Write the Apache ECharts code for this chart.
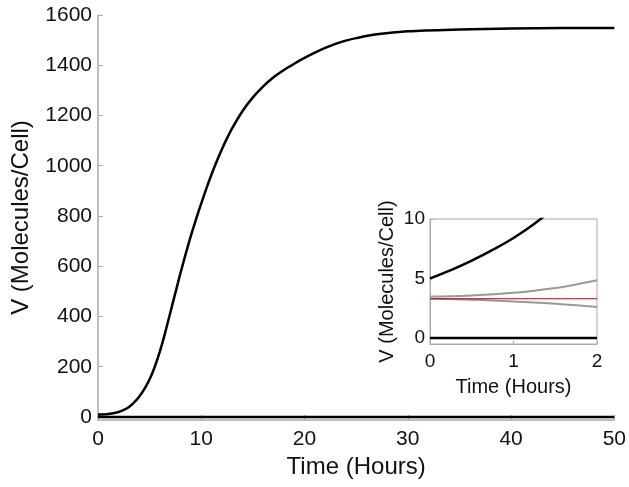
<!DOCTYPE html>
<html>
<head>
<meta charset="utf-8">
<script src="https://cdn.jsdelivr.net/npm/echarts@6/dist/echarts.min.js"></script>
<style>
  html, body { margin: 0; padding: 0; background: #fff; }
  #chart { width: 629px; height: 487px; }
</style>
</head>
<body>
<div id="chart"></div>
<script>
// main panel: V over 50 hours
var mainTime = [0, 1, 2, 2.5, 3, 3.5, 4, 4.5, 5, 5.5, 6, 6.5, 7, 7.5, 8, 8.5, 9, 9.5, 10,
  10.5, 11, 11.5, 12, 12.5, 13, 14, 15, 16, 17, 18, 19, 20, 21, 22, 23, 24, 25, 27, 30,
  35, 40, 45, 50];
var mainV = [10, 12, 20, 28, 40, 58, 82, 112, 150, 200, 262, 335, 415, 495, 575, 650,
  722, 788, 850, 910, 966, 1018, 1066, 1110, 1150, 1218, 1272, 1316, 1352, 1381, 1406,
  1429, 1450, 1469, 1485, 1498, 1508, 1523, 1535, 1542, 1546, 1548, 1548];
var mainZero = [0, 0];
var mainZeroTime = [0, 50];
var mainYTicks = [0, 200, 400, 600, 800, 1000, 1200, 1400, 1600];

// inset: first 2 hours
var insetTime = [0, 0.25, 0.5, 0.75, 1, 1.25, 1.5, 1.75, 2];
var insetBlack = [5, 5.7, 6.5, 7.4, 8.4, 9.6, 11.0, 12.6, 14.3];
var insetGrayUp = [3.5, 3.52, 3.58, 3.68, 3.8, 3.98, 4.2, 4.5, 4.85];
var insetGrayDown = [3.3, 3.27, 3.22, 3.16, 3.08, 2.99, 2.88, 2.75, 2.6];
var insetRed = [3.3, 3.3, 3.3, 3.3, 3.3, 3.3, 3.3, 3.3, 3.3];
var insetZero = [0, 0, 0, 0, 0, 0, 0, 0, 0];
var insetYTicks = [0, 5, 10];

function pairs(xs, ys) {
  return xs.map(function (x, i) { return [x, ys[i]]; });
}
function plain(v) {
  return String(v);
}

var font = "Liberation Sans, Arial, Helvetica, sans-serif";
var chart = echarts.init(document.getElementById("chart"));
var option = {
  animation: false,
  backgroundColor: "#fff",
  textStyle: { fontFamily: font },
  grid: [
    { left: 98, right: 13, top: 15, bottom: 67 },
    { left: 430, top: 219, width: 167, height: 125, show: true,
      backgroundColor: "#fff", borderColor: "#aaa", borderWidth: 1 }
  ],
  xAxis: [
    {
      gridIndex: 0, type: "value", min: 0, max: 50, interval: 10,
      name: "Time (Hours)", nameLocation: "middle", nameGap: 33,
      nameTextStyle: { fontSize: 24, color: "#111", fontFamily: font },
      axisLine: { onZero: false, lineStyle: { color: "#aaa", width: 1.5 } },
      axisTick: { inside: true, length: 5, lineStyle: { color: "#aaa" } },
      axisLabel: { fontSize: 21, color: "#111", margin: 9, fontFamily: font, formatter: plain },
      splitLine: { show: false }
    },
    {
      gridIndex: 1, type: "value", min: 0, max: 2, interval: 1,
      name: "Time (Hours)", nameLocation: "middle", nameGap: 33,
      nameTextStyle: { fontSize: 20, color: "#111", fontFamily: font },
      axisLine: { onZero: false, lineStyle: { color: "#aaa" } },
      axisTick: { inside: true, length: 3, lineStyle: { color: "#aaa" } },
      axisLabel: { fontSize: 19, color: "#111", margin: 8, fontFamily: font, formatter: plain },
      splitLine: { show: false }
    }
  ],
  yAxis: [
    {
      gridIndex: 0, type: "value", min: -12, max: 1600,
      name: "V (Molecules/Cell)", nameLocation: "middle", nameGap: 65,
      nameTextStyle: { fontSize: 24, color: "#111", fontFamily: font },
      axisLine: { show: true, lineStyle: { color: "#aaa", width: 1.5 } },
      axisTick: { show: true, inside: true, length: 5, customValues: mainYTicks,
        lineStyle: { color: "#aaa" } },
      axisLabel: { fontSize: 21, color: "#111", margin: 6, customValues: mainYTicks,
        fontFamily: font, formatter: plain },
      splitLine: { show: false }
    },
    {
      gridIndex: 1, type: "value", min: -0.5, max: 10,
      name: "V (Molecules/Cell)", nameLocation: "middle", nameGap: 33,
      nameTextStyle: { fontSize: 20, color: "#111", fontFamily: font },
      axisLine: { show: true, lineStyle: { color: "#aaa" } },
      axisTick: { show: true, inside: true, length: 3, customValues: insetYTicks,
        lineStyle: { color: "#aaa" } },
      axisLabel: { fontSize: 19, color: "#111", margin: 5, customValues: insetYTicks,
        fontFamily: font, formatter: plain },
      splitLine: { show: false }
    }
  ],
  series: [
    { type: "line", xAxisIndex: 0, yAxisIndex: 0, data: pairs(mainZeroTime, mainZero),
      showSymbol: false, lineStyle: { color: "#000", width: 2.5 } },
    { type: "line", xAxisIndex: 0, yAxisIndex: 0, data: pairs(mainTime, mainV),
      showSymbol: false, smooth: 0.3,
      lineStyle: { color: "#000", width: 2.5 } },
    { type: "line", xAxisIndex: 1, yAxisIndex: 1, data: pairs(insetTime, insetZero),
      showSymbol: false, lineStyle: { color: "#000", width: 2.5 } },
    { type: "line", xAxisIndex: 1, yAxisIndex: 1, data: pairs(insetTime, insetGrayUp),
      showSymbol: false, smooth: 0.4, lineStyle: { color: "#999", width: 2 } },
    { type: "line", xAxisIndex: 1, yAxisIndex: 1, data: pairs(insetTime, insetGrayDown),
      showSymbol: false, smooth: 0.4, lineStyle: { color: "#999", width: 2 } },
    { type: "line", xAxisIndex: 1, yAxisIndex: 1, data: pairs(insetTime, insetRed),
      showSymbol: false, lineStyle: { color: "#c00000", width: 1.2 } },
    { type: "line", xAxisIndex: 1, yAxisIndex: 1, data: pairs(insetTime, insetBlack),
      showSymbol: false, smooth: 0.4, clip: true, lineStyle: { color: "#000", width: 2.5 } }
  ]
};
chart.setOption(option);
window.addEventListener("resize", function () {
  chart.resize();
});
</script>
</body>
</html>
